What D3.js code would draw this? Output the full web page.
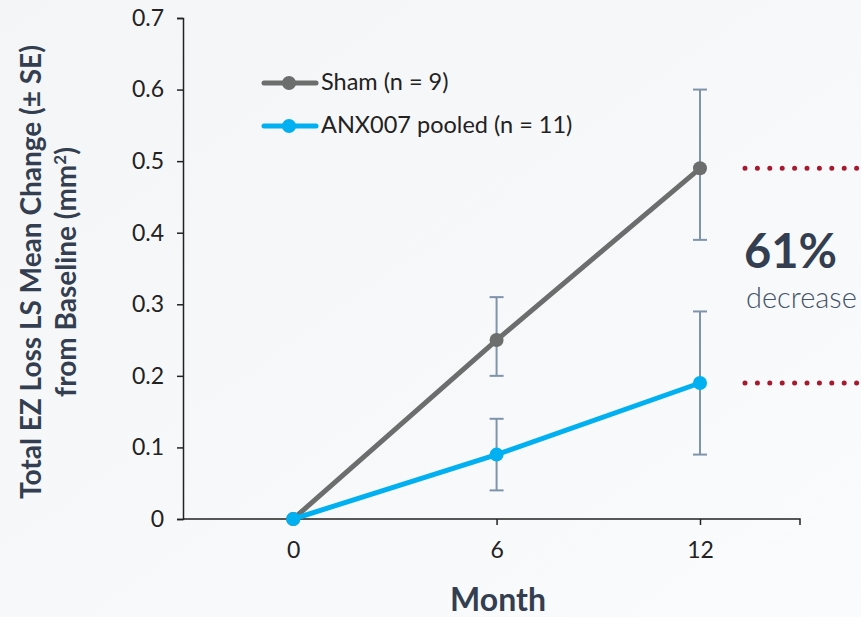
<!DOCTYPE html>
<html><head><meta charset="utf-8">
<script src="https://cdn.jsdelivr.net/npm/d3@7"></script>
<style>
html,body{margin:0;padding:0;background:#f7f8fa;}
svg{display:block;}
</style></head>
<body>
<svg id="chart" width="861" height="617"></svg>
<script>
const months = [0, 6, 12];
const shamMean = [0, 0.25, 0.49];
const shamLow = [0, 0.20, 0.39];
const shamHigh = [0, 0.31, 0.60];
const anxMean = [0, 0.09, 0.19];
const anxLow = [0, 0.04, 0.09];
const anxHigh = [0, 0.14, 0.29];
const yTicks = [0, 0.1, 0.2, 0.3, 0.4, 0.5, 0.6, 0.7];
const xTicks = [0, 6, 12];
const seriesNames = ["Sham (n = 9)", "ANX007 pooled (n = 11)"];
const seriesColors = ["#6b6e6d", "#00b0f0"];
const reductionLabel = "61%";
const reductionSub = "decrease";

const svg = d3.select("#chart");
const font = "Lato, 'Open Sans', sans-serif";
const dark = "#333f50";

const defs = svg.append("defs");
const grad = defs.append("linearGradient").attr("id","bg").attr("x1","0").attr("y1","0").attr("x2","1").attr("y2","1");
grad.append("stop").attr("offset","0").attr("stop-color","#f4f5f7");
grad.append("stop").attr("offset","1").attr("stop-color","#fafbfc");
svg.append("rect").attr("width",861).attr("height",617).attr("fill","url(#bg)");

const x = d3.scaleLinear().domain([-3.25, 14.95]).range([183, 800]);
const y = d3.scaleLinear().domain([0, 0.7]).range([519, 18]);

// Y axis
const yAxis = svg.append("g").attr("transform","translate(183,0)")
  .call(d3.axisLeft(y).tickValues(yTicks).tickSize(6).tickPadding(13).tickFormat(d => d === 0 ? "0" : d3.format(".1f")(d)));
yAxis.select(".domain").attr("stroke","#222").attr("stroke-width",1.5);
yAxis.selectAll(".tick line").attr("stroke","#222").attr("stroke-width",1.5);
yAxis.selectAll("text").attr("font-family",font).attr("font-size",23).attr("fill","#222");

// X axis
const xAxis = svg.append("g").attr("transform","translate(0,519)")
  .call(d3.axisBottom(x).tickValues(xTicks).tickSize(6).tickSizeOuter(6).tickPadding(17));
xAxis.select(".domain").attr("stroke","#222").attr("stroke-width",1.5).attr("d","M183,0H800V6");
xAxis.selectAll(".tick line").attr("stroke","#222").attr("stroke-width",1.5);
xAxis.selectAll("text").attr("font-family",font).attr("font-size",23).attr("fill","#222");

// Error bars
const errColor = "#7f93ab";
function errBars(low, high) {
  const g = svg.append("g").attr("stroke", errColor).attr("stroke-width", 2);
  months.forEach((m, i) => {
    if (high[i] === low[i]) return;
    g.append("line").attr("x1",x(m)).attr("x2",x(m)).attr("y1",y(low[i])).attr("y2",y(high[i]));
    [low[i], high[i]].forEach(v => g.append("line").attr("x1",x(m)-7).attr("x2",x(m)+7).attr("y1",y(v)).attr("y2",y(v)));
  });
}
errBars(shamLow, shamHigh);
errBars(anxLow, anxHigh);

// Lines
const line = d3.line().x((d,i) => x(months[i])).y(d => y(d));
[shamMean, anxMean].forEach((s, k) => {
  svg.append("path").attr("d", line(s)).attr("fill","none").attr("stroke",seriesColors[k]).attr("stroke-width",5);
  svg.selectAll(null).data(s).enter().append("circle")
    .attr("cx",(d,i)=>x(months[i])).attr("cy",d=>y(d)).attr("r",7).attr("fill",seriesColors[k]);
});

// Legend
seriesNames.forEach((name, k) => {
  const ly = 83 + k*43;
  svg.append("line").attr("x1",264).attr("x2",316).attr("y1",ly).attr("y2",ly)
    .attr("stroke",seriesColors[k]).attr("stroke-width",5).attr("stroke-linecap","round");
  svg.append("circle").attr("cx",289).attr("cy",ly).attr("r",7).attr("fill",seriesColors[k]);
  svg.append("text").attr("x",321).attr("y",ly+7).attr("font-family",font).attr("font-size",23.5).attr("fill","#222").text(name);
});

// Dotted reference lines
const dotRed = "#a6192e";
[shamMean[2], anxMean[2]].forEach(v => {
  svg.append("line").attr("x1",745).attr("x2",861).attr("y1",y(v)).attr("y2",y(v))
    .attr("stroke",dotRed).attr("stroke-width",5).attr("stroke-linecap","round").attr("stroke-dasharray","0 12.4");
});

// Annotation
svg.append("text").attr("x",744).attr("y",268).attr("font-family",font).attr("font-weight",700)
  .attr("font-size",47).attr("fill",dark).text(reductionLabel);
svg.append("text").attr("x",746).attr("y",308).attr("font-family",font).attr("font-weight",300)
  .attr("font-size",29).attr("fill","#44546a").text(reductionSub);

// Axis titles
svg.append("text").attr("x",498).attr("y",611).attr("text-anchor","middle").attr("font-family",font)
  .attr("font-weight",700).attr("font-size",32).attr("fill",dark).text("Month");

const yt = svg.append("text").attr("transform","translate(41,272) rotate(-90)").attr("text-anchor","middle")
  .attr("font-family",font).attr("font-weight",700).attr("font-size",28).attr("fill",dark);
yt.append("tspan").attr("x",0).attr("y",0).text("Total EZ Loss LS Mean Change (± SE)");
const t2 = yt.append("tspan").attr("x",0).attr("y",35).text("from Baseline (mm");
t2.append("tspan").attr("dy",-10).attr("font-size",17).text("2");
t2.append("tspan").attr("dy",10).text(")");
</script>
</body></html>
